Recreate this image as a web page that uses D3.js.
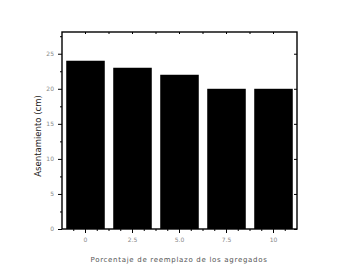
<!DOCTYPE html>
<html>
<head>
<meta charset="utf-8">
<script src="https://cdn.jsdelivr.net/npm/d3@7"></script>
<style>
  body { margin: 0; background: #fff; }
  text { font-family: "DejaVu Sans", sans-serif; }
</style>
</head>
<body>
<div class="container"></div>
<script>
// data
const categories = ['0', '2.5', '5.0', '7.5', '10']
const values = [24, 23, 22, 20, 20]
const yTicks = [0, 5, 10, 15, 20, 25]
const yMinor = [2.5, 7.5, 12.5, 17.5, 22.5, 27.5]

const W = 345, H = 275
const m = {left: 62, right: 48, top: 32, bottom: 46}

const svg = d3.select('.container')
    .append('svg')
    .attr('width', W)
    .attr('height', H)

const x = d3.scaleBand()
    .domain(categories)
    .range([m.left, W - m.right])
    .paddingInner(0.18)
    .paddingOuter(0.09)

const y = d3.scaleLinear()
    .domain([0, 28.1])
    .range([H - m.bottom, m.top])

// bars
svg.append('g')
    .selectAll('rect')
    .data(values)
    .join('rect')
    .attr('x', (d, i) => x(categories[i]))
    .attr('y', d => y(d))
    .attr('width', x.bandwidth())
    .attr('height', d => y(0) - y(d))
    .attr('fill', '#000')

// frame
svg.append('rect')
    .attr('x', m.left)
    .attr('y', m.top)
    .attr('width', W - m.left - m.right)
    .attr('height', H - m.top - m.bottom)
    .attr('fill', 'none')
    .attr('stroke', '#000')
    .attr('stroke-width', 1.4)

const centers = categories.map(c => x(c) + x.bandwidth() / 2)
const step = x.step()
const between = centers.map(c => c + step / 2).slice(0, -1)

// left axis (outward) + right axis (inward)
const yAxis = d3.axisLeft(y).tickValues(yTicks).tickSize(4).tickPadding(4)
const gy = svg.append('g').attr('transform', `translate(${m.left},0)`).call(yAxis)
gy.select('.domain').remove()
gy.selectAll('text').attr('font-size', 6).attr('fill', '#888')

svg.append('g').attr('transform', `translate(${m.left},0)`)
    .call(d3.axisLeft(y).tickValues(yMinor.filter(v => v < 28)).tickSize(2).tickFormat(''))
    .select('.domain').remove()

svg.append('g').attr('transform', `translate(${W - m.right},0)`)
    .call(d3.axisLeft(y).tickValues(yTicks).tickSize(3).tickFormat(''))
    .select('.domain').remove()

// bottom axis
const xAxis = d3.axisBottom(x).tickSize(4).tickPadding(5)
const gx = svg.append('g').attr('transform', `translate(0,${H - m.bottom})`).call(xAxis)
gx.select('.domain').remove()
gx.selectAll('text').attr('font-size', 6).attr('fill', '#888')

svg.append('g').attr('transform', `translate(0,${H - m.bottom})`)
    .selectAll('line')
    .data(between.concat(centers.map(c => c - step / 4), centers.map(c => c + step / 4)))
    .join('line')
    .attr('x1', d => d).attr('x2', d => d)
    .attr('y1', 0).attr('y2', 2)
    .attr('stroke', '#000')

// top axis ticks (inward)
svg.append('g')
    .selectAll('line')
    .data(centers.concat(between))
    .join('line')
    .attr('x1', d => d).attr('x2', d => d)
    .attr('y1', m.top).attr('y2', m.top + 2)
    .attr('stroke', '#000')

// titles
svg.append('text')
    .attr('transform', `translate(41,136) rotate(-90)`)
    .attr('text-anchor', 'middle')
    .attr('font-size', 8.5)
    .attr('fill', '#222')
    .text('Asentamiento (cm)')

svg.append('text')
    .attr('x', 179)
    .attr('y', 262)
    .attr('text-anchor', 'middle')
    .attr('font-size', 7)
    .attr('letter-spacing', 0.7)
    .attr('fill', '#555')
    .text('Porcentaje de reemplazo de los agregados')
</script>
</body>
</html>
